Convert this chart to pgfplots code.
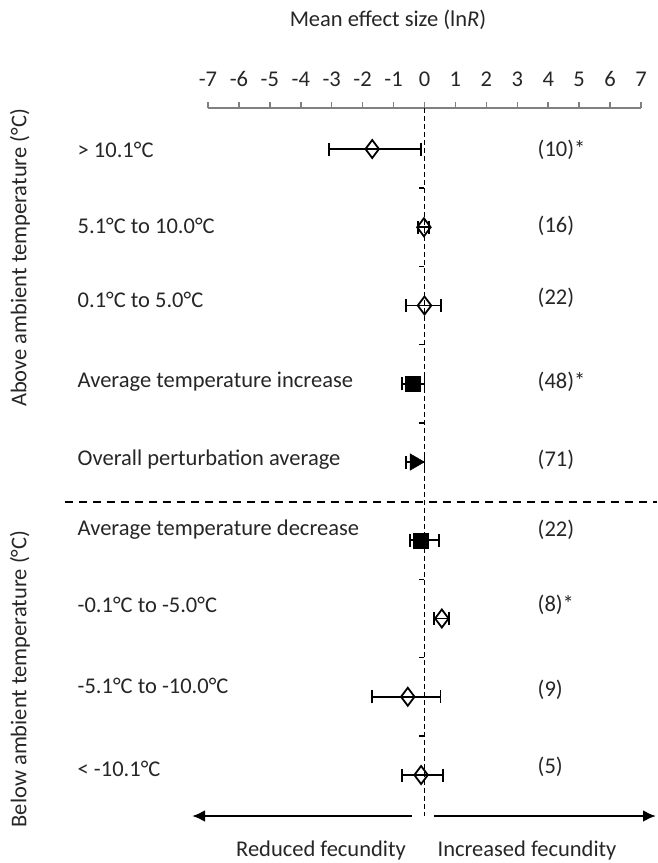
\documentclass[border=0pt]{standalone}
\usepackage{pgfplots}
\pgfplotsset{compat=1.18}
\usetikzlibrary{arrows.meta}
\usepackage{fontspec}
\setmainfont{Carlito}
\newcommand{\fs}{\fontsize{22.5}{27}\selectfont}
\begin{document}
\fs
\begin{tikzpicture}[x=1pt,y=1pt]
\useasboundingbox (0,0) rectangle (657,-863);
\begin{axis}[
  at={(208pt,-108pt)}, anchor=north west,
  scale only axis, width=433pt, height=708pt,
  xmin=-7, xmax=7, ymin=-9.524, ymax=-0.476,
  axis x line*=top, axis y line=none,
  x axis line style={color=black!50, line width=1.5pt, -},
  xtick={-7,-6,...,7},
  xticklabels={-7,-6,-5,-4,-3,-2,-1,0,1,2,3,4,5,6,7},
  xtick align=outside, major tick length=6pt,
  xtick style={color=black!50, line width=1.5pt},
  xticklabel style={font=\fs, text=black!85, yshift=8pt},
  clip=false,
]
\addplot[black, line width=1.5pt, dash pattern=on 5pt off 3pt] coordinates {(0,-0.476) (0,-9.524)};
\pgfplotsinvokeforeach{-1.5,-2.5,-3.5,-4.5,-6.5,-7.5,-8.5}{
  \draw[black, line width=1.4pt] (axis cs:0,#1) -- (axis cs:-0.17,#1);
}
% diamonds
\addplot[black, only marks, mark=diamond, mark size=9pt,
  mark options={fill=white, line width=1.8pt},
  error bars/.cd, x dir=both, x explicit,
  error bar style={line width=1.8pt, black},
  error mark options={rotate=90, mark size=6.5pt, line width=1.8pt, black}]
coordinates {
 (-1.69,-1) += (1.58,0) -= (1.39,0)
 (-0.02,-2) += (0.17,0) -= (0.18,0)
 (0.00,-3) += (0.54,0) -= (0.59,0)
 (0.56,-7) += (0.24,0) -= (0.26,0)
 (-0.54,-8) += (1.06,0) -= (1.15,0)
 (-0.11,-9) += (0.70,0) -= (0.61,0)
};
% squares
\addplot[black, only marks, mark=square*, mark size=7.5pt,
  mark options={fill=black},
  error bars/.cd, x dir=both, x explicit,
  error bar style={line width=1.8pt, black},
  error mark options={rotate=90, mark size=6.5pt, line width=1.8pt, black}]
coordinates {
 (-0.38,-4) += (0.38,0) -= (0.35,0)
 (-0.13,-6) += (0.60,0) -= (0.33,0)
};
% triangle
\addplot[black, only marks, mark=triangle*, mark size=9.5pt,
  mark options={fill=black, rotate=-90},
  error bars/.cd, x dir=both, x explicit,
  error bar style={line width=1.8pt, black},
  error mark options={rotate=90, mark size=6.5pt, line width=1.8pt, black}]
coordinates {
 (-0.31,-5) += (0.31,0) -= (0.28,0)
};
\end{axis}
% title
\node[text=black!85] at (388,-20) {Mean effect size (ln\textit{R})};
% row labels
\begin{scope}[every node/.style={anchor=west, text=black!85}]
\node at (70,-150) {> 10.1°C};
\node at (70,-226) {5.1°C to 10.0°C};
\node at (70,-300) {0.1°C to 5.0°C};
\node at (70,-382) {Average temperature increase};
\node at (70,-460) {Overall perturbation average};
\node at (70,-530) {Average temperature decrease};
\node at (70,-605) {-0.1°C to -5.0°C};
\node at (70,-686) {-5.1°C to -10.0°C};
\node at (70,-769) {< -10.1°C};
\node at (530,-150) {(10)*};
\node at (530,-226) {(16)};
\node at (530,-298) {(22)};
\node at (530,-382) {(48)*};
\node at (530,-460) {(71)};
\node at (530,-530) {(22)};
\node at (530,-605) {(8)*};
\node at (530,-690) {(9)};
\node at (530,-767) {(5)};
\end{scope}
% group labels
\node[rotate=90, text=black!85] at (20,-258) {Above ambient temperature (°C)};
\node[rotate=90, text=black!85] at (20,-679) {Below ambient temperature (°C)};
% separator
\draw[black, line width=1.5pt, dash pattern=on 8pt off 6pt] (65,-502) -- (657,-502);
% arrows
\draw[black, line width=2.7pt, -{Latex[length=13pt,width=12pt]}] (412,-816) -- (192,-816);
\draw[black, line width=2.7pt, -{Latex[length=13pt,width=12pt]}] (434,-816) -- (656,-816);
\node[text=black!85] at (321,-850) {Reduced fecundity};
\node[text=black!85] at (527,-850) {Increased fecundity};
\end{tikzpicture}
\end{document}
